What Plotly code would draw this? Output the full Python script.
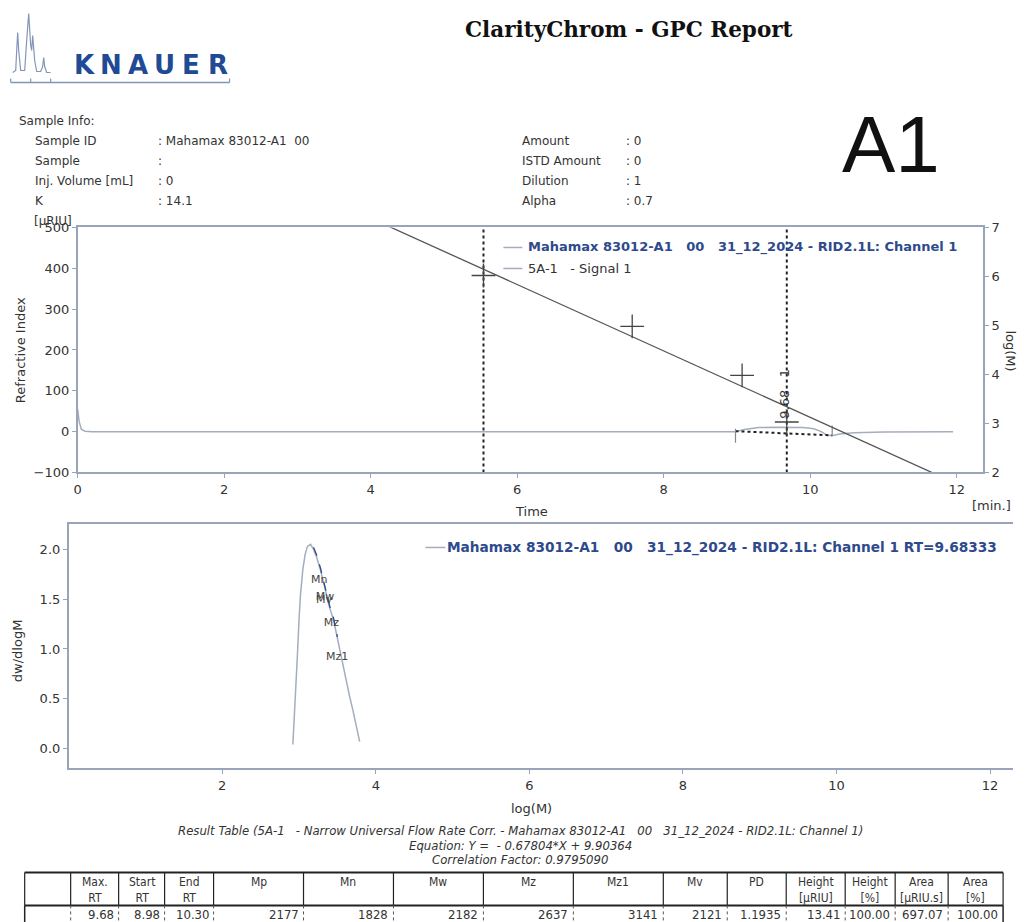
import plotly.graph_objects as go

W, H = 1025, 922
# small compensation for the page-to-picture mapping observed in rendering
def px(x): return ((x - 3.3) / 0.9967) / W
def py(y): return 1 - ((y - 6.5) / 0.9838) / H

# ---------------- data ----------------
signal_time = [0.0, 0.02, 0.05, 0.1, 0.2, 8.98, 9.1, 9.3, 9.5, 9.7, 9.9, 10.05, 10.15, 10.22, 10.3, 10.4, 10.6, 11.0, 11.95]
signal_ri = [55, 25, 6, 1, 0, 0, 5, 10, 11, 11, 10, 7, 0, -8, -10, -6, -3, -1, 0]

calib_time = [5.54, 7.57, 9.07, 9.68]
calib_logM = [6.02, 4.98, 3.98, 3.03]

fit_line_time = [4.0, 12.0]
fit_line_logM = [7.19, 1.77]

baseline_time = [8.98, 10.30]
baseline_ri = [1, -9]

marker_lines_time = [5.54, 9.68]

start_tick_time = [8.98, 8.98]
start_tick_ri = [7, -27]
end_tick_time = [10.30, 10.30]
end_tick_ri = [15, -10]

peak_label = "9.68\u00a0\u00a0\u00a01"

dist_logM = [2.92, 2.95, 2.98, 3.00, 3.02, 3.05, 3.08, 3.11, 3.15, 3.19, 3.23, 3.28, 3.32, 3.36, 3.40, 3.45, 3.50, 3.55, 3.58, 3.62, 3.66, 3.70, 3.74, 3.79]
dist_val = [0.04, 0.45, 0.95, 1.29, 1.55, 1.80, 1.95, 2.03, 2.05, 2.00, 1.92, 1.79, 1.66, 1.53, 1.41, 1.29, 1.10, 0.91, 0.79, 0.65, 0.52, 0.39, 0.24, 0.07]

avg_names = ["Mn", "Mw", "Mv", "Mz", "Mz1"]
avg_logM = [3.262, 3.339, 3.327, 3.421, 3.497]
avg_label_val = [1.69, 1.52, 1.49, 1.26, 0.92]

top_xticks = [0, 2, 4, 6, 8, 10, 12]
bottom_xticks = [2, 4, 6, 8, 10, 12]

table_header = ["", "Max.<br>RT", "Start<br>RT", "End<br>RT", "Mp", "Mn", "Mw", "Mz", "Mz1", "Mv", "PD",
                "Height<br>[µRIU]", "Height<br>[%]", "Area<br>[µRIU.s]", "Area<br>[%]"]
table_values = ["", "9.68", "8.98", "10.30", "2177", "1828", "2182", "2637", "3141", "2121", "1.1935",
                "13.41", "100.00", "697.07", "100.00"]
table_edges = [24, 70, 118, 164, 213, 303, 393, 483, 573, 663, 727, 786, 845, 895, 948, 1003]

info_left = [("Sample ID", ": Mahamax 83012-A1\u00a0\u00a000"), ("Sample", ":"),
             ("Inj. Volume [mL]", ": 0"), ("K", ": 14.1")]
info_right = [("Amount", ": 0"), ("ISTD Amount", ": 0"), ("Dilution", ": 1"), ("Alpha", ": 0.7")]

# ---------------- styles ----------------
AX = "#9aa4b8"
SIG = "#a4adbe"
TXT = "#333333"
BLUE = "#2e4a8c"
FONT = "DejaVu Sans, Verdana, sans-serif"
COND = "DejaVu Sans Condensed, Liberation Sans Narrow, Arial Narrow, sans-serif"

fig = go.Figure()

# top chart
fig.add_trace(go.Scatter(x=signal_time, y=signal_ri, mode="lines", line=dict(color=SIG, width=1.5),
                         xaxis="x", yaxis="y", showlegend=False, hoverinfo="skip"))
fig.add_trace(go.Scatter(x=baseline_time, y=baseline_ri, mode="lines", line=dict(color="#222", width=2, dash="dot"),
                         xaxis="x", yaxis="y", showlegend=False))
fig.add_trace(go.Scatter(x=start_tick_time, y=start_tick_ri, mode="lines", line=dict(color="#888", width=1.2),
                         xaxis="x", yaxis="y", showlegend=False))
fig.add_trace(go.Scatter(x=end_tick_time, y=end_tick_ri, mode="lines", line=dict(color="#888", width=1.2),
                         xaxis="x", yaxis="y", showlegend=False))
for t in marker_lines_time:
    fig.add_trace(go.Scatter(x=[t, t], y=[-100, 500], mode="lines", line=dict(color="#222", width=2, dash="dot"),
                             xaxis="x", yaxis="y", showlegend=False))
fig.add_trace(go.Scatter(x=fit_line_time, y=fit_line_logM, mode="lines", line=dict(color="#555", width=1.3),
                         xaxis="x", yaxis="y2", showlegend=False))
fig.add_trace(go.Scatter(x=calib_time, y=calib_logM, mode="markers",
                         marker=dict(symbol="cross-thin", size=17, line=dict(width=1.3, color="#444")),
                         xaxis="x", yaxis="y2", showlegend=False))

# bottom chart
fig.add_trace(go.Scatter(x=dist_logM, y=dist_val, mode="lines", line=dict(color=SIG, width=1.5),
                         xaxis="x2", yaxis="y3", showlegend=False))
fig.add_trace(go.Scatter(x=dist_logM[9:17], y=[v + 0.02 for v in dist_val[9:17]], mode="lines",
                         line=dict(color=BLUE, width=1.3, dash="dash"),
                         xaxis="x2", yaxis="y3", showlegend=False))
fig.add_trace(go.Scatter(x=avg_logM, y=avg_label_val, mode="text", text=avg_names,
                         textfont=dict(family=FONT, size=11, color="#444"),
                         xaxis="x2", yaxis="y3", showlegend=False))

axis_common = dict(showgrid=False, zeroline=False, showline=True, linecolor=AX, linewidth=1.5,
                   ticks="outside", ticklen=4, tickcolor=AX,
                   tickfont=dict(family=FONT, size=13, color=TXT))

fig.update_layout(
    width=W, height=H, margin=dict(l=0, r=0, t=0, b=0),
    paper_bgcolor="white", plot_bgcolor="white",
    xaxis=dict(domain=[px(77), px(983)], range=[0, 12.36], tickvals=top_xticks, anchor="y", mirror=True,
               **axis_common),
    yaxis=dict(domain=[py(472), py(227)], range=[-100, 500], dtick=100, anchor="x", **axis_common),
    yaxis2=dict(domain=[py(472), py(227)], range=[2, 7], dtick=1, overlaying="y", side="right", anchor="x",
                **axis_common),
    xaxis2=dict(domain=[px(68), px(1013)], range=[0, 12.3], tickvals=bottom_xticks, anchor="y3", mirror=True,
                **axis_common),
    yaxis3=dict(domain=[py(768), py(524)], range=[-0.2, 2.25], tickvals=[0, 0.5, 1, 1.5, 2], tickformat=".1f",
                anchor="x2", **axis_common),
)

ann = []
def A(x, y, text, size=12, color=TXT, xanchor="left", yanchor="middle", family=FONT, angle=0):
    ann.append(dict(x=px(x), y=py(y), xref="paper", yref="paper", text=text, showarrow=False,
                    font=dict(family=family, size=size, color=color), xanchor=xanchor, yanchor=yanchor,
                    textangle=angle))

shapes = []
def L(x0, y0, x1, y1, color="#222", width=1, dash="solid"):
    shapes.append(dict(type="line", xref="paper", yref="paper", x0=px(x0), y0=py(y0), x1=px(x1), y1=py(y1),
                       line=dict(color=color, width=width, dash=dash)))

# header: logo
LOGO = "#8396b8"
logo_path = ("M 12 72 L 15 70 L 16 50 L 17 32 L 18 50 L 20 70 L 24 70 L 26 40 L 28 13 L 30 45 L 31 50 "
             "L 32 35 L 34 60 L 36 71 L 40 71 L 42 66 L 43 57 L 44 66 L 46 72 L 50 72")
def to_paper_path(p):
    out = []
    tok = p.split()
    i = 0
    while i < len(tok):
        if tok[i] in ("M", "L"):
            out.append(tok[i]); out.append(f"{px(float(tok[i+1])):.5f},{py(float(tok[i+2])):.5f}"); i += 3
        else:
            i += 1
    return " ".join(out)
shapes.append(dict(type="path", xref="paper", yref="paper", path=to_paper_path(logo_path),
                   line=dict(color=LOGO, width=1.2)))
L(10, 82, 229, 82, color=LOGO, width=1.5)
for tx in (10, 30, 50, 229):
    L(tx, 82, tx, 78, color=LOGO, width=1.2)
for i, ch in enumerate("KNAUER"):
    A(84 + i * 26.6, 65, f"<b>{ch}</b>", size=26, color="#1f4a94", xanchor="center", family="DejaVu Sans, sans-serif")

A(629, 29, "<b>ClarityChrom - GPC Report</b>", size=21.5, color="#111", xanchor="center",
  family="DejaVu Serif, Liberation Serif, serif")
A(891, 144, "A1", size=80, color="#111", xanchor="center", family="Liberation Sans, Arial, sans-serif")

# sample info
A(16, 121, "Sample Info:", size=12)
for i, (k, v) in enumerate(info_left):
    A(32, 141 + i * 19.7, k, size=12)
    A(155, 141 + i * 19.7, v, size=12)
for i, (k, v) in enumerate(info_right):
    A(520, 141 + i * 19.7, k, size=12)
    A(624, 141 + i * 19.7, v, size=12)

# top chart texts
A(52, 221, "[µRIU]", size=12, xanchor="center")
A(20, 350, "Refractive Index", size=13, xanchor="center", angle=-90)
A(1010, 350, "log(M)", size=13, xanchor="center", angle=90)
A(531, 511, "Time", size=13, xanchor="center")
A(991, 505, "[min.]", size=13, xanchor="center")
A(784, 393, peak_label, size=13, xanchor="center", angle=-90)
L(503, 247, 522, 247, color=SIG, width=1.5)
L(503, 268, 522, 268, color=SIG, width=1.5)
A(526, 247, "<b>Mahamax 83012-A1\u00a0\u00a0\u00a000\u00a0\u00a0\u00a031_12_2024 - RID2.1L: Channel 1</b>",
  size=13, color=BLUE, family="DejaVu Sans, sans-serif")
A(526, 268, "5A-1\u00a0\u00a0\u00a0- Signal 1", size=13, color="#333", family="DejaVu Sans, sans-serif")

# bottom chart texts
A(17, 650, "dw/dlogM", size=13, xanchor="center", angle=-90)
A(531, 808, "log(M)", size=13, xanchor="center")
L(425, 547, 445, 547, color=SIG, width=1.5)
A(445, 547, "<b>Mahamax 83012-A1\u00a0\u00a0\u00a000\u00a0\u00a0\u00a031_12_2024 - RID2.1L: Channel 1 RT=9.68333</b>",
  size=13.7, color=BLUE, family="DejaVu Sans, sans-serif")

# result table captions
A(520, 830, "<i>Result Table (5A-1\u00a0\u00a0\u00a0- Narrow Universal Flow Rate Corr. - Mahamax 83012-A1\u00a0\u00a0\u00a000\u00a0\u00a0\u00a031_12_2024 - RID2.1L: Channel 1)</i>",
  size=13, xanchor="center", family=COND)
A(520, 845, "<i>Equation: Y =\u00a0\u00a0- 0.67804*X + 9.90364</i>", size=13, xanchor="center", family=COND)
A(520, 859, "<i>Correlation Factor: 0.9795090</i>", size=13, xanchor="center", family=COND)

# table
T_TOP, T_MID, T_BOT = 872, 905, 930
L(table_edges[0], T_TOP, table_edges[-1], T_TOP, width=2)
L(table_edges[0], T_MID, table_edges[-1], T_MID, width=2)
for i, e in enumerate(table_edges):
    L(e, T_TOP, e, T_MID, width=1.2)
    if i == 0 or i == len(table_edges) - 1:
        L(e, T_MID, e, T_BOT, width=1.5)
    else:
        L(e, T_MID, e, T_BOT, width=1, color="#555", dash="dot")
for i in range(len(table_header)):
    x0, x1 = table_edges[i], table_edges[i + 1]
    if table_header[i]:
        A((x0 + x1) / 2, 873, table_header[i], size=12, xanchor="center", yanchor="top", family=COND)
    if table_values[i]:
        A(x1 - 3, 914, table_values[i], size=13, xanchor="right", family=COND)

fig.update_layout(annotations=ann, shapes=shapes)
fig.write_html(
    "out.html",
    config={"displayModeBar": False, "responsive": False},
    post_script=(
        "document.documentElement.style.margin='0';document.documentElement.style.overflow='hidden';"
        "document.body.style.margin='0';document.body.style.padding='0';document.body.style.overflow='hidden';"
        "var d=document.getElementById('{plot_id}');d.style.position='fixed';d.style.left='0px';d.style.top='0px';"
    ),
)
